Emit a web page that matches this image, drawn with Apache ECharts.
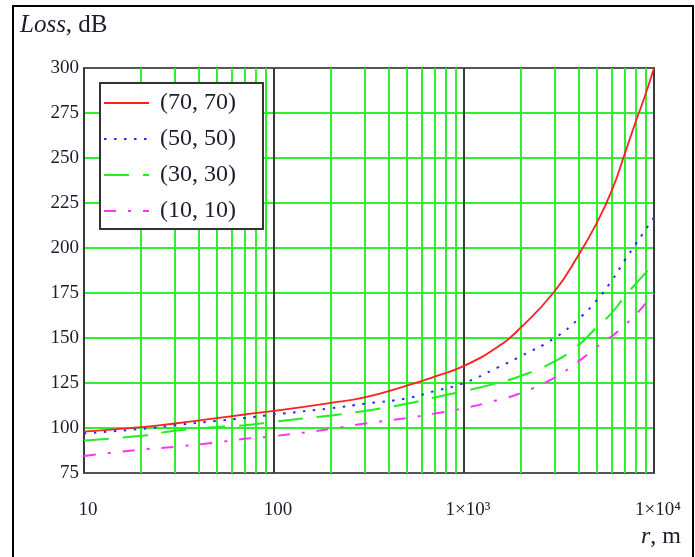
<!DOCTYPE html>
<html>
<head>
<meta charset="utf-8">
<script src="https://cdn.jsdelivr.net/npm/echarts@6/dist/echarts.min.js"></script>
<style>
html, body { margin: 0; padding: 0; background: #fff; }
#main { width: 695px; height: 557px; }
</style>
</head>
<body>
<div id="main"></div>
<script>
// distance r, m (log axis)
var distance = [10, 20, 30, 50, 70, 100, 200, 300, 500, 700, 1000, 1500, 2000, 3000, 4000, 5000, 6000, 7000, 8000, 9000, 10000];

// Loss, dB
var loss70 = [98, 100.5, 102.5, 105.5, 107.5, 109.5, 114, 117, 123.5, 128.5, 134.5, 145, 156, 176, 196, 214, 232, 252, 270, 285, 300];
var loss50 = [97, 99.5, 101.5, 104, 105.5, 107.5, 111, 113.5, 116.5, 120.5, 125, 133.5, 140, 150, 160.5, 171, 182, 193, 202, 210, 217];
var loss30 = [93, 95.7, 98.5, 100.5, 101.5, 103.5, 107, 109.5, 113.5, 117, 120.5, 125, 129, 137, 146, 156, 164, 173, 180, 186, 192];
var loss10 = [84.5, 88, 89.5, 92, 94, 95.5, 99.5, 102.5, 105.5, 108, 111, 115.5, 119.5, 128, 137, 145, 151, 157, 163, 169, 175];

var seriesNames = ['(70, 70)', '(50, 50)', '(30, 30)', '(10, 10)'];

// axis ticks
var yMin = 75, yMax = 300, yStep = 25;
var xTickLabels = { 10: '10', 100: '100', 1000: '1×10³', 10000: '1×10⁴' };
var xMinorGrid = [20, 30, 40, 50, 60, 70, 80, 90, 200, 300, 400, 500, 600, 700, 800, 900,
                  2000, 3000, 4000, 5000, 6000, 7000, 8000, 9000];

function pairs(ys) {
  return distance.map(function (r, i) { return [r, ys[i]]; });
}

var green = '#2ef02e';
var serif = 'Liberation Serif';
var ink = '#1c1c2c';

var myChart = echarts.init(document.getElementById('main'));

function curve(name, ys, color, width, dash) {
  return {
    name: name, type: 'line', symbol: 'none', showSymbol: false,
    smooth: 0.5, z: 5,
    lineStyle: { color: color, width: width, type: dash },
    itemStyle: { color: color },
    data: pairs(ys)
  };
}

option = {
  animation: false,
  backgroundColor: '#fff',
  grid: {
    left: 84, right: 41, top: 68, bottom: 84,
    show: true, borderColor: '#555', borderWidth: 2, backgroundColor: 'transparent'
  },
  graphic: [
    { type: 'rect', shape: { x: 13, y: 6, width: 680, height: 560 }, style: { fill: 'none', stroke: '#000', lineWidth: 2 } },
    { type: 'text', left: 20, top: 13, style: {
        text: '{i|Loss}, dB', font: '25px "Liberation Serif"', fill: ink,
        rich: { i: { fontStyle: 'italic', fontFamily: serif, fontSize: 25, fill: ink } } } },
    { type: 'text', left: 641, top: 525, style: {
        text: '{i|r}, m', font: '24px "Liberation Serif"', fill: ink,
        rich: { i: { fontStyle: 'italic', fontFamily: serif, fontSize: 24, fill: ink } } } }
  ],
  legend: {
    orient: 'vertical', left: 100, top: 83, z: 20,
    backgroundColor: '#fff', borderColor: '#333', borderWidth: 2,
    padding: [8, 27, 6, 3],
    itemWidth: 45, itemHeight: 14, itemGap: 12,
    selectedMode: false,
    itemStyle: { color: 'rgba(0,0,0,0)', borderWidth: 0 },
    textStyle: { fontFamily: serif, fontSize: 24, lineHeight: 23, color: ink, padding: [0, 0, 0, 6] },
    data: seriesNames
  },
  xAxis: {
    type: 'log', logBase: 10, min: 10, max: 10000,
    axisLine: { show: false }, axisTick: { show: false },
    axisLabel: {
      margin: 28, fontFamily: serif, fontSize: 19, color: ink, padding: [0, 0, 0, 8],
      formatter: function (v) { return xTickLabels[v] || ''; }
    },
    splitLine: { show: true, lineStyle: { color: '#3a3a3a', width: 2 } }
  },
  yAxis: {
    type: 'value', min: yMin, max: yMax, interval: yStep,
    axisLine: { show: false }, axisTick: { show: false },
    axisLabel: { margin: 5, fontFamily: serif, fontSize: 19, color: ink },
    splitLine: { show: true, showMinLine: false, showMaxLine: false, lineStyle: { color: green, width: 2 } }
  },
  series: [
    {
      name: 'minor grid', type: 'line', data: [], z: 1, silent: true,
      markLine: {
        silent: true, z: 1, symbol: ['none', 'none'], label: { show: false },
        lineStyle: { color: green, width: 2, type: 'solid' },
        data: xMinorGrid.map(function (v) { return { xAxis: v }; })
      }
    },
    curve(seriesNames[0], loss70, '#ff2020', 1.8, 'solid'),
    curve(seriesNames[1], loss50, '#2a2aff', 2, [2.5, 7.5]),
    curve(seriesNames[2], loss30, '#22ee22', 2, [25, 14]),
    curve(seriesNames[3], loss10, '#ff33ff', 2, [12, 12, 3, 12])
  ]
};

myChart.setOption(option);
</script>
</body>
</html>
